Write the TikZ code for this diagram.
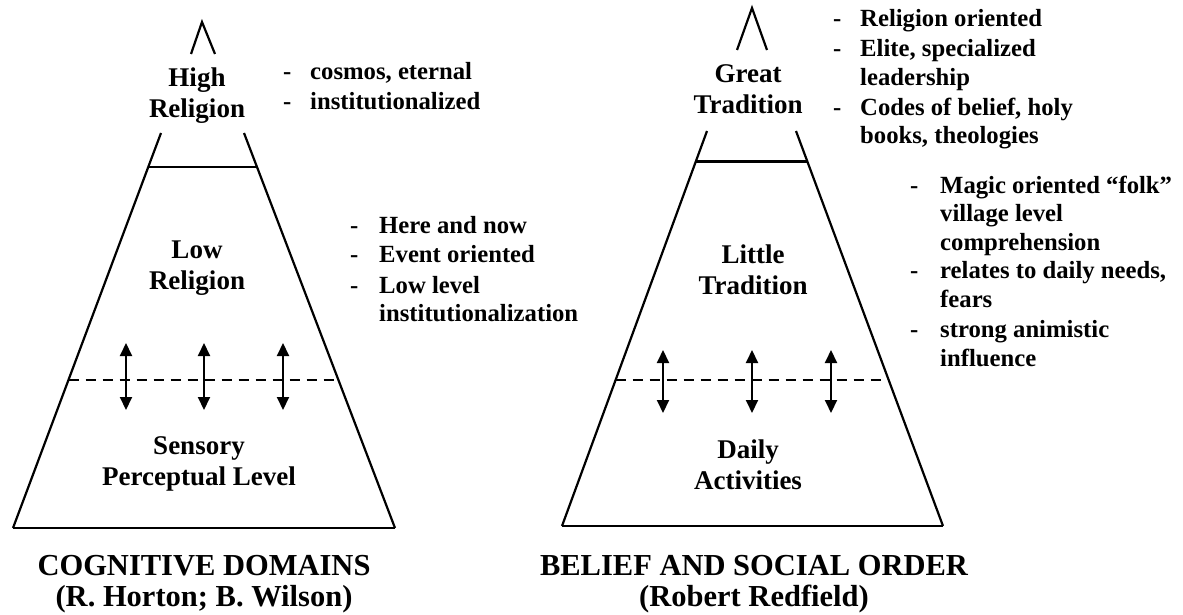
\documentclass[tikz,border=0pt]{standalone}
\usepackage{fontspec}
\setmainfont{Liberation Serif}
\usepackage{tikz}
\usetikzlibrary{positioning,arrows.meta,calc}

\begin{document}
\begin{tikzpicture}[y=-1pt,x=1pt,
  edge/.style={line width=2.2pt,line join=miter},
  cut/.style={line width=2.8pt},
  split/.style={line width=2pt,dash pattern=on 10pt off 7pt},
  updown/.style={line width=2pt,{Triangle[length=13pt,width=12pt]}-{Triangle[length=13pt,width=12pt]}},
  level/.style={anchor=north,inner sep=0pt,align=center,font=\bfseries\fontsize{27}{31}\selectfont},
  caption/.style={anchor=north,inner sep=0pt,align=center,font=\bfseries\fontsize{30.5}{31}\selectfont},
  notes/.style={anchor=base west,inner sep=0pt,font=\bfseries\fontsize{24.7}{28.5}\selectfont}]
  \useasboundingbox (0,0) rectangle (1183,615);

  % left pyramid: cognitive domains
  \coordinate (cdtl) at (161,133);
  \coordinate (cdtr) at (244,133);
  \coordinate (cdbl) at (13,528);
  \coordinate (cdbr) at (395,528);
  \draw[edge] (191,54) -- (202,22) -- (215,54);
  \draw[edge] (cdtl) -- (cdbl);
  \draw[edge] (cdtr) -- (cdbr);
  \draw[cut] (cdbl) -- (cdbr);
  \draw[cut] ($(cdtl)!0.086!(cdbl)$) -- ($(cdtr)!0.086!(cdbr)$);
  \draw[split] ($(cdtl)!0.625!(cdbl)$) -- ($(cdtr)!0.625!(cdbr)$);
  \foreach \x [count=\i] in {126,204,283} {
    \coordinate (cdup\i) at (\x,343);
    \coordinate (cddn\i) at (\x,410);
    \draw[updown] (cdup\i) -- (cddn\i);
  }
  \node[level] (highrel) at (197,67.7) {High\\Religion};
  \node[level] (lowrel) at (197,241) {Low\\Religion};
  \node[level] (sensory) at (199,436) {Sensory\\Perceptual Level};
  \node[caption] (cdcap) at (204,555) {COGNITIVE DOMAINS\\(R. Horton; B. Wilson)};
  \node[notes] (highnotes) at (283,80) {\begin{tabular}[t]{@{}p{27pt}@{}l@{}}
    - & cosmos, eternal\\[1.5pt]
    - & institutionalized
  \end{tabular}};
  \node[notes] (lownotes) at (350,233) {\begin{tabular}[t]{@{}p{29pt}@{}l@{}}
    - & Here and now\\[1pt]
    - & Event oriented\\[2pt]
    - & Low level\\
      & institutionalization
  \end{tabular}};

  % right pyramid: belief and social order
  \coordinate (bstl) at (707,131);
  \coordinate (bstr) at (796,131);
  \coordinate (bsbl) at (562,526);
  \coordinate (bsbr) at (943,526);
  \draw[edge] (737,50) -- (752,8) -- (767,50);
  \draw[edge] (bstl) -- (bsbl);
  \draw[edge] (bstr) -- (bsbr);
  \draw[cut] (bsbl) -- (bsbr);
  \draw[cut] ($(bstl)!0.078!(bsbl)$) -- ($(bstr)!0.078!(bsbr)$);
  \draw[split] ($(bstl)!0.630!(bsbl)$) -- ($(bstr)!0.630!(bsbr)$);
  \foreach \x [count=\i] in {663,752,831} {
    \coordinate (bsup\i) at (\x,350);
    \coordinate (bsdn\i) at (\x,413);
    \draw[updown] (bsup\i) -- (bsdn\i);
  }
  \node[level] (great) at (748,64) {Great\\Tradition};
  \node[level] (little) at (753,244.7) {Little\\Tradition};
  \node[level] (daily) at (748,439.7) {Daily\\Activities};
  \node[caption] (bscap) at (754,555) {BELIEF AND SOCIAL ORDER\\(Robert Redfield)};
  \node[notes] (greatnotes) at (833,27) {\begin{tabular}[t]{@{}p{27pt}@{}l@{}}
    - & Religion oriented\\[1.5pt]
    - & Elite, specialized\\
      & leadership\\[1.5pt]
    - & Codes of belief, holy\\
      & books, theologies
  \end{tabular}};
  \node[notes] (littlenotes) at (910,193) {\begin{tabular}[t]{@{}p{30pt}@{}l@{}}
    - & Magic oriented “folk”\\
      & village level\\
      & comprehension\\
    - & relates to daily needs,\\
      & fears\\[2pt]
    - & strong animistic\\
      & influence
  \end{tabular}};
\end{tikzpicture}
\end{document}
